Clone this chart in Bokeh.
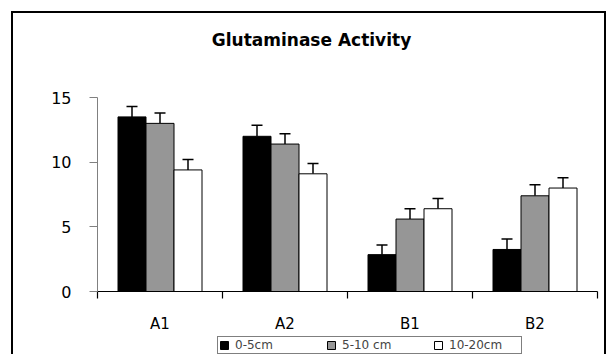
from bokeh.plotting import figure
from bokeh.layouts import column
from bokeh.models import (ColumnDataSource, Range1d, FixedTicker, Whisker, TeeHead,
                          Legend, LegendItem, Label)
from bokeh.embed import file_html
from bokeh.resources import INLINE

# ---- data ----
categories = ["A1", "A2", "B1", "B2"]
series_names = ["0-5cm", "5-10 cm", "10-20cm"]
depth_0_5 = [13.5, 12.0, 2.85, 3.25]
depth_5_10 = [13.0, 11.4, 5.6, 7.4]
depth_10_20 = [9.4, 9.1, 6.4, 8.0]
err_0_5 = [0.8, 0.85, 0.75, 0.8]
err_5_10 = [0.8, 0.8, 0.8, 0.85]
err_10_20 = [0.8, 0.8, 0.8, 0.8]
y_ticks = [0, 5, 10, 15]
title_text = "Glutaminase Activity"

# ---- styles ----
FONT = "DejaVu Sans"
colors = ["#000000", "#969696", "#ffffff"]
offsets = [-0.224, 0.0, 0.224]
bar_width = 0.224
W = 591
H_TITLE, H_MAIN, H_LEG = 61, 262, 18

n = len(categories)
series_vals = [depth_0_5, depth_5_10, depth_10_20]
series_errs = [err_0_5, err_5_10, err_10_20]


def bare_figure(height, y_range):
    f = figure(width=W, height=height, x_range=Range1d(0, n), y_range=y_range,
               x_axis_type=None, y_axis_type=None, output_backend="svg",
               toolbar_location=None, min_border=0)
    f.outline_line_color = None
    f.grid.visible = False
    f.background_fill_color = "white"
    f.border_fill_color = "white"
    return f


def series_source(j):
    vals, errs = series_vals[j], series_errs[j]
    return ColumnDataSource(dict(
        x=[i + 0.5 + offsets[j] for i in range(n)],
        top=vals,
        upper=[v + e for v, e in zip(vals, errs)],
        cat=categories,
    ))


# ---- title strip (frame is aligned with the chart frame by the column) ----
pt = bare_figure(H_TITLE, Range1d(0, 1))
pt.add_layout(Label(x=214, y=H_TITLE - 26, x_units="screen", y_units="screen",
                    text=title_text, text_align="center", text_baseline="middle",
                    text_font=FONT, text_font_size="17px", text_font_style="bold",
                    text_color="black"))

# ---- main chart ----
p = figure(width=W, height=H_MAIN, x_range=Range1d(0, n), y_range=Range1d(0, 15),
           output_backend="svg", toolbar_location=None,
           min_border_left=84, min_border_right=7, min_border_top=23,
           min_border_bottom=H_MAIN - 23 - 194)
p.outline_line_color = None
p.xgrid.visible = False
p.ygrid.visible = False
p.background_fill_color = "white"
p.border_fill_color = "white"

# x axis: labels at centers, ticks at category boundaries
p.xaxis.ticker = FixedTicker(ticks=[i + 0.5 for i in range(n)], minor_ticks=list(range(n + 1)))
p.xaxis.major_label_overrides = {i + 0.5: c for i, c in enumerate(categories)}
p.xaxis.major_tick_out = 0
p.xaxis.major_tick_in = 0
p.xaxis.minor_tick_out = 7
p.xaxis.minor_tick_in = 0
p.xaxis.minor_tick_line_color = "black"
p.xaxis.axis_line_color = "black"
p.xaxis.axis_line_width = 1.2
p.xaxis.minor_tick_line_width = 1.2
p.xaxis.major_label_standoff = 16
p.xaxis.major_label_text_font = FONT
p.xaxis.major_label_text_font_size = "15px"
p.xaxis.major_label_text_color = "black"

p.yaxis.ticker = FixedTicker(ticks=y_ticks, minor_ticks=[])
p.yaxis.axis_line_color = "#808080"
p.yaxis.major_tick_line_color = "#808080"
p.yaxis.major_tick_out = 8
p.yaxis.major_tick_in = 0
p.yaxis.minor_tick_line_color = None
p.yaxis.major_label_standoff = 18
p.yaxis.major_label_text_font = FONT
p.yaxis.major_label_text_font_size = "16px"
p.yaxis.major_label_text_color = "black"

for j in range(len(series_names)):
    src = series_source(j)
    p.vbar(x="x", top="top", width=bar_width, source=src,
           fill_color=colors[j], line_color="black", line_width=1)
    p.add_layout(Whisker(base="x", upper="upper", lower="top", source=src, dimension="height",
                         line_color="black", line_width=1.5,
                         upper_head=TeeHead(size=11, line_color="black", line_width=1.5),
                         lower_head=None))

# ---- legend strip (its lower border is cut by the window, as in the reference) ----
# the same series are drawn here below the visible y-range; only their legend shows
pl = bare_figure(H_LEG, Range1d(100, 101))
items = []
for j, name in enumerate(series_names):
    r = pl.vbar(x="x", top="top", width=bar_width, source=series_source(j),
                fill_color=colors[j], line_color="black", line_width=1)
    items.append(LegendItem(label=name, renderers=[r]))
legend = Legend(items=items, location=(120, 0),
                orientation="horizontal", border_line_color="black", border_line_width=1,
                padding=1, spacing=20, glyph_width=10, glyph_height=10,
                label_standoff=6, label_width=71, label_height=10,
                label_text_font=FONT, label_text_font_size="12px",
                background_fill_color="white", background_fill_alpha=1.0, margin=0)
pl.add_layout(legend)

layout = column(pt, p, pl, spacing=0, margin=(13, 0, 0, 13),
                styles={"outline": "2px solid black"})

open("out.html", "w").write(file_html(layout, INLINE))
